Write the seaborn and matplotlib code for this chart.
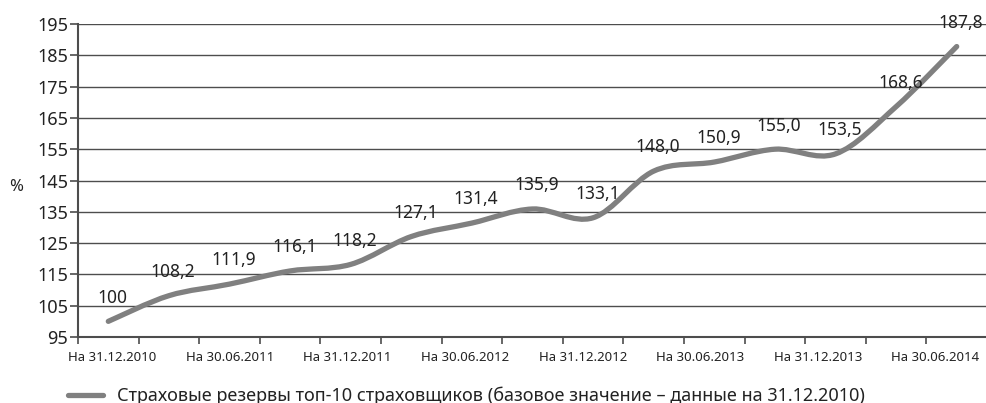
import numpy as np
import matplotlib
matplotlib.use("Agg")
import matplotlib.pyplot as plt
from matplotlib.path import Path
from matplotlib.patches import PathPatch
from matplotlib.lines import Line2D
import seaborn as sns

sns.set_theme(style="white")
plt.rcParams["font.family"] = ["Noto Sans", "DejaVu Sans"]

# data
dates = ["На 31.12.2010", "На 31.03.2011", "На 30.06.2011", "На 30.09.2011",
         "На 31.12.2011", "На 31.03.2012", "На 30.06.2012", "На 30.09.2012",
         "На 31.12.2012", "На 31.03.2013", "На 30.06.2013", "На 30.09.2013",
         "На 31.12.2013", "На 31.03.2014", "На 30.06.2014"]
values = [100, 108.2, 111.9, 116.1, 118.2, 127.1, 131.4, 135.9,
          133.1, 148.0, 150.9, 155.0, 153.5, 168.6, 187.8]
labels = ["100", "108,2", "111,9", "116,1", "118,2", "127,1", "131,4", "135,9",
          "133,1", "148,0", "150,9", "155,0", "153,5", "168,6", "187,8"]
series_name = "Страховые резервы топ-10 страховщиков (базовое значение – данные на 31.12.2010)"

LINE = "#808080"
GRID = "#4d4d4d"

fig = plt.figure(figsize=(9.87, 4.03), dpi=100)
ax = fig.add_axes([78 / 987, 66 / 403, 909 / 987, 313 / 403])

x = np.arange(len(values), dtype=float)
y = np.array(values, dtype=float)

# smoothed line (Excel-like Catmull-Rom via cubic Bezier segments)
pts = np.column_stack([x, y])
ext = np.vstack([pts[0], pts, pts[-1]])
verts = [tuple(pts[0])]
codes = [Path.MOVETO]
for i in range(len(pts) - 1):
    p0, p1, p2, p3 = ext[i], ext[i + 1], ext[i + 2], ext[i + 3]
    c1 = p1 + (p2 - p0) / 6.0
    c2 = p2 - (p3 - p1) / 6.0
    verts += [tuple(c1), tuple(c2), tuple(p2)]
    codes += [Path.CURVE4] * 3
ax.add_patch(PathPatch(Path(verts, codes), facecolor="none", edgecolor=LINE,
                       lw=3.8, capstyle="round", joinstyle="round", zorder=3))

# data labels
for xi, yi, t in zip(x, y, labels):
    ax.annotate(t, (xi, yi), xytext=(3, 17), textcoords="offset points",
                ha="center", va="center", fontsize=12.5, color="#222222", zorder=4)

ax.set_xlim(-0.5, len(values) - 0.5)
ax.set_ylim(95, 195)
ax.set_yticks(np.arange(95, 196, 10))
ax.yaxis.grid(True, color=GRID, lw=1)
ax.xaxis.grid(False)
# every second date is labelled; labels sit slightly compressed like the source
ax.set_xticks(np.linspace(0.07, 13.65, len(dates[::2])))
ax.set_xticklabels(dates[::2], fontsize=9.5, color="#222222")
ax.set_xticks(np.arange(-0.5, len(values), 1.0), minor=True)
ax.tick_params(axis="x", which="major", length=0, pad=10)
ax.tick_params(axis="x", which="minor", length=5, width=1.2, color=GRID, direction="out", bottom=True)
ax.tick_params(axis="y", length=6, width=1.2, color=GRID, direction="out", left=True,
               labelsize=13, labelcolor="#222222", pad=1)

for s in ["top", "right"]:
    ax.spines[s].set_visible(False)
for s in ["left", "bottom"]:
    ax.spines[s].set_color(GRID)
    ax.spines[s].set_linewidth(1.5)

ax.set_ylabel("%", rotation=0, fontsize=12, color="#222222", va="center")
ax.yaxis.set_label_coords(-0.068, 0.48)

handle = Line2D([], [], color=LINE, lw=3.8, solid_capstyle="round")
fig.legend([handle], [series_name], loc="lower left", bbox_to_anchor=(52 / 987, -0.045),
           frameon=False, fontsize=13, handlelength=1.9, handletextpad=0.8,
           labelcolor="#222222")

fig.savefig("out.png", dpi=100)
